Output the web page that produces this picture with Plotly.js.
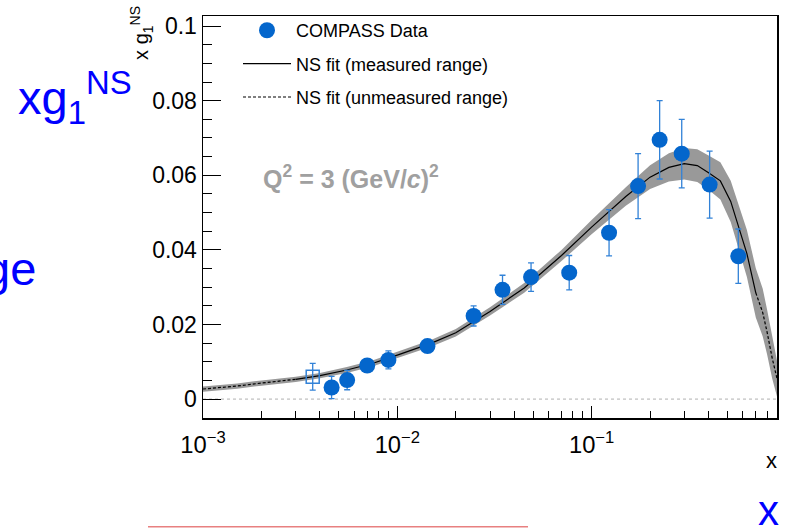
<!DOCTYPE html>
<html><head><meta charset="utf-8">
<script src="https://cdn.plot.ly/plotly-3.0.1.min.js"></script>
<style>html,body{margin:0;padding:0;background:#fff;}#chart{width:789px;height:528px;}</style>
</head><body><div id="chart"></div>
<script>
// COMPASS data points (x, x*g1^NS, stat error)
const dataX   = [0.00459, 0.00552, 0.0070, 0.0090, 0.0143, 0.0247, 0.0348, 0.0488, 0.0767, 0.123, 0.1735, 0.224, 0.291, 0.405, 0.569];
const dataY   = [0.0031, 0.0051, 0.0090, 0.0105, 0.0142, 0.0223, 0.0293, 0.0327, 0.0339, 0.0446, 0.0571, 0.0695, 0.0658, 0.0575, 0.0383];
const dataErr = [0.0030, 0.0026, 0.0012, 0.0024, 0.0008, 0.0027, 0.0039, 0.0038, 0.0046, 0.0062, 0.0087, 0.0105, 0.0092, 0.0090, 0.0073];
// low-x point (open square)
const lowX   = [0.00367];
const lowY   = [0.0060];
const lowErr = [0.0036];
// NS fit curve and its uncertainty band
const fitX   = [0.001, 0.0015, 0.002, 0.003, 0.004, 0.0055, 0.0075, 0.01, 0.015, 0.02, 0.03, 0.045, 0.07, 0.1, 0.15, 0.2, 0.25, 0.3, 0.35, 0.4, 0.46, 0.52, 0.58, 0.63, 0.7, 0.76, 0.8, 0.85, 0.9];
const fitY   = [0.0027, 0.0035, 0.0043, 0.0053, 0.0063, 0.0078, 0.0096, 0.0118, 0.0150, 0.0178, 0.0235, 0.0298, 0.0385, 0.0461, 0.0543, 0.0595, 0.0621, 0.0631, 0.0626, 0.0607, 0.0585, 0.0530, 0.0447, 0.0390, 0.0285, 0.0232, 0.0180, 0.0110, 0.0055];
const fitErr = [0.0007, 0.0007, 0.0007, 0.0007, 0.0007, 0.0008, 0.0008, 0.0008, 0.0009, 0.0010, 0.0011, 0.0013, 0.0015, 0.0019, 0.0025, 0.0032, 0.0038, 0.0042, 0.0044, 0.0046, 0.0050, 0.0055, 0.0060, 0.0063, 0.0066, 0.0064, 0.0060, 0.0055, 0.0048];
const measMin = 0.003, measMax = 0.7;
// axis ticks
const yTickVals = [0, 0.02, 0.04, 0.06, 0.08, 0.1];
const legendNames = ['COMPASS Data', 'NS fit (measured range)', 'NS fit (unmeasured range)'];

const FONT = 'Liberation Sans, Arial, Helvetica, sans-serif';
const BLUE = 'rgb(4,102,204)';
const EBLUE = 'rgb(50,130,215)';

const bandLo = fitY.map((v, i) => v - fitErr[i]);
const bandHi = fitY.map((v, i) => v + fitErr[i]);

const solidX = [], solidY = [];
fitX.forEach((x, i) => { if (x >= measMin && x <= measMax) { solidX.push(x); solidY.push(fitY[i]); } });
const dashX = [], dashY = [];
fitX.forEach((x, i) => { if (x <= measMin) { dashX.push(x); dashY.push(fitY[i]); } });
dashX.push(null); dashY.push(null);
fitX.forEach((x, i) => { if (x >= measMax) { dashX.push(x); dashY.push(fitY[i]); } });

const traces = [
  {x: fitX, y: bandLo, mode: 'lines', line: {width: 0, color: 'rgba(0,0,0,0)'}, showlegend: false, hoverinfo: 'skip'},
  {x: fitX, y: bandHi, mode: 'lines', line: {width: 0, color: 'rgba(0,0,0,0)'}, fill: 'tonexty', fillcolor: 'rgb(153,153,153)', showlegend: false, hoverinfo: 'skip'},
  {x: solidX, y: solidY, mode: 'lines', line: {color: 'black', width: 1.2}, name: legendNames[1], legendrank: 2, legendgroup: 'b'},
  {x: dashX, y: dashY, mode: 'lines', connectgaps: false, line: {color: 'black', width: 1.2, dash: '3px,2px'}, name: legendNames[2], legendrank: 3, legendgroup: 'c'},
  {x: lowX, y: lowY, mode: 'markers', marker: {symbol: 'square-open', size: 13, color: EBLUE, line: {width: 1.5, color: EBLUE}},
   error_y: {type: 'data', array: lowErr, color: EBLUE, thickness: 1.3, width: 3}, showlegend: false},
  {x: dataX, y: dataY, mode: 'markers', marker: {symbol: 'circle', size: 16, color: BLUE},
   error_y: {type: 'data', array: dataErr, color: EBLUE, thickness: 1.3, width: 3}, name: legendNames[0], legendrank: 1, legendgroup: 'a'}
];

const W = 574, H = 404, L = 203, T = 14;
const px = v => (v - L) / W;
const py = v => (T + H - v) / H;

const layout = {
  width: 789, height: 528,
  margin: {l: 203, r: 12, t: 14, b: 110, pad: 0},
  paper_bgcolor: 'white', plot_bgcolor: 'white',
  font: {family: FONT, color: 'black'},
  showlegend: true,
  legend: {x: px(238), y: py(10), xanchor: 'left', yanchor: 'top', bgcolor: 'rgba(0,0,0,0)', borderwidth: 0,
           font: {size: 18, family: FONT}, traceorder: 'grouped', tracegroupgap: 7, itemwidth: 48},
  xaxis: {type: 'log', range: [-3, Math.log10(0.9)], dtick: 1, exponentformat: 'power',
          ticks: 'inside', ticklen: 12, tickwidth: 1, tickcolor: 'black',
          minor: {ticks: 'inside', ticklen: 7, dtick: 'D1', tickcolor: 'black', showgrid: false},
          showgrid: false, zeroline: false, showline: true, linecolor: 'black', linewidth: 1.5, mirror: true,
          tickfont: {size: 19, family: FONT}, ticklabelstandoff: 6},
  yaxis: {range: [-0.00507, 0.1027], tickvals: yTickVals, ticks: 'inside', ticklen: 18, tickwidth: 1, tickcolor: 'black',
          minor: {ticks: 'inside', ticklen: 9, dtick: 0.005, tick0: 0, tickcolor: 'black', showgrid: false},
          showgrid: false, zeroline: false, showline: true, linecolor: 'black', linewidth: 1.5, mirror: true,
          tickfont: {size: 23, family: FONT}},
  shapes: [
    {type: 'line', xref: 'paper', yref: 'y', x0: 0, x1: 1, y0: 0, y1: 0, layer: 'below', line: {color: '#b0b0b0', width: 1, dash: 'dot'}},
    {type: 'line', xref: 'paper', yref: 'paper', x0: px(148), x1: px(528), y0: py(527.3), y1: py(527.3), line: {color: 'rgb(232,128,128)', width: 1.5}}
  ],
  annotations: [
    {xref: 'paper', yref: 'paper', x: px(142), y: py(31), xanchor: 'center', yanchor: 'middle', textangle: -90, showarrow: false,
     text: 'x g<sub>1</sub><sup>NS</sup>', font: {size: 20, family: FONT, color: 'black'}},
    {xref: 'paper', yref: 'paper', x: px(771), y: py(461), xanchor: 'center', yanchor: 'middle', showarrow: false,
     text: 'x', font: {size: 22, family: FONT, color: 'black'}},
    {xref: 'paper', yref: 'paper', x: px(261), y: py(176), xanchor: 'left', yanchor: 'middle', showarrow: false,
     text: '<b>Q<sup>2</sup> = 3 (GeV/<i>c</i>)<sup>2</sup></b>', font: {size: 25, family: FONT, color: 'rgb(160,160,160)'}},
    {xref: 'paper', yref: 'paper', x: px(16), y: py(96), xanchor: 'left', yanchor: 'middle', showarrow: false,
     text: 'xg<sub>1</sub><sup>NS</sup>', font: {size: 47, family: FONT, color: 'rgb(0,0,255)'}},
    {xref: 'paper', yref: 'paper', x: px(38), y: py(268), xanchor: 'right', yanchor: 'middle', showarrow: false,
     text: 'ge', font: {size: 47, family: FONT, color: 'rgb(0,0,255)'}},
    {xref: 'paper', yref: 'paper', x: px(768), y: py(511), xanchor: 'center', yanchor: 'middle', showarrow: false,
     text: 'x', font: {size: 42, family: FONT, color: 'rgb(0,0,255)'}}
  ]
};

Plotly.newPlot('chart', traces, layout, {staticPlot: true, displayModeBar: false});
</script>
</body></html>
